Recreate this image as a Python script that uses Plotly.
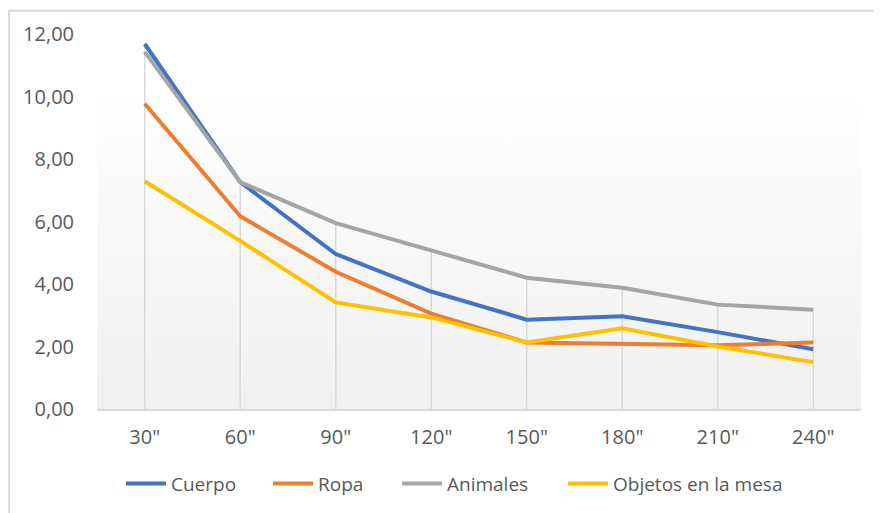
import plotly.graph_objects as go

categories = ['30"', '60"', '90"', '120"', '150"', '180"', '210"', '240"']
cuerpo = [11.68, 7.26, 4.96, 3.76, 2.86, 2.97, 2.46, 1.91]
ropa = [9.77, 6.17, 4.39, 3.05, 2.13, 2.07, 2.04, 2.13]
animales = [11.43, 7.26, 5.95, 5.06, 4.20, 3.88, 3.34, 3.18]
objetos = [7.29, 5.38, 3.41, 2.93, 2.13, 2.58, 2.00, 1.50]
y_ticks = [0, 2, 4, 6, 8, 10, 12]

series = [
    ("Cuerpo", cuerpo, "#4472C4"),
    ("Ropa", ropa, "#ED7D31"),
    ("Animales", animales, "#A5A5A5"),
    ("Objetos en la mesa", objetos, "#FFC000"),
]
# left edge (figure px) of each legend entry
legend_left_px = [113, 260, 389, 555]

L, R, T, B = 89, 28, 24, 112
W, H = 881, 513
PW, PH = W - L - R, H - T - B

fig = go.Figure()

# drop lines: from the highest value at each category down to the axis
dx, dy = [], []
for i, c in enumerate(categories):
    top = max(s[1][i] for s in series)
    dx += [c, c, None]
    dy += [0, top, None]
fig.add_trace(go.Scatter(x=dx, y=dy, mode="lines", line=dict(color="#d9d9d9", width=1.5),
                         showlegend=False, hoverinfo="skip"))

legend_ids = ["legend", "legend2", "legend3", "legend4"]
for (name, vals, col), lid in zip(series, legend_ids):
    fig.add_trace(go.Scatter(x=categories, y=vals, name=name, mode="lines",
                             line=dict(color=col, width=4), legend=lid))

svg = ("data:image/svg+xml;utf8,<svg xmlns='http://www.w3.org/2000/svg' width='100' height='100' "
       "preserveAspectRatio='none'><defs><linearGradient id='g' x1='0' y1='0' x2='0' y2='1'>"
       "<stop offset='0' stop-color='%23ffffff'/><stop offset='0.15' stop-color='%23ffffff'/>"
       "<stop offset='1' stop-color='%23f0f0f0'/></linearGradient></defs>"
       "<rect width='100' height='100' fill='url(%23g)'/></svg>")

legend_y = (401 - 476) / PH
legends = {}
for lid, px in zip(legend_ids, legend_left_px):
    legends[lid] = dict(orientation="h", x=(px - L) / PW, xanchor="left", y=legend_y,
                        yanchor="middle", font=dict(size=19, color="#595959"),
                        bgcolor="rgba(0,0,0,0)", itemwidth=40)

fig.update_layout(
    width=W, height=H,
    margin=dict(l=L, r=R, t=T, b=B),
    paper_bgcolor="white", plot_bgcolor="rgba(0,0,0,0)",
    separators=",.",
    font=dict(family="Open Sans, Noto Sans, sans-serif", size=20, color="#595959"),
    showlegend=True,
    images=[dict(source=svg, xref="paper", yref="paper", x=0, y=1, sizex=1, sizey=1,
                 sizing="stretch", layer="below", xanchor="left", yanchor="top")],
    shapes=[dict(type="rect", xref="paper", yref="paper", x0=-0.115, y0=-1, x1=2, y1=1.062,
                 line=dict(color="#d9d9d9", width=2), fillcolor="rgba(0,0,0,0)", layer="below")],
    **legends,
)
fig.update_xaxes(type="category", range=[-0.5, 7.5], showgrid=False, showline=True,
                 linecolor="#d9d9d9", linewidth=1.5, ticks="outside", ticklen=9,
                 tickcolor="rgba(0,0,0,0)", tickfont=dict(size=20, color="#595959"))
fig.update_yaxes(range=[0, 12], tickvals=y_ticks, tickformat=".2f", showgrid=False,
                 showline=False, zeroline=False, ticks="outside", ticklen=18,
                 tickcolor="rgba(0,0,0,0)", tickfont=dict(size=20, color="#595959"))

fig.write_html("out.html")
